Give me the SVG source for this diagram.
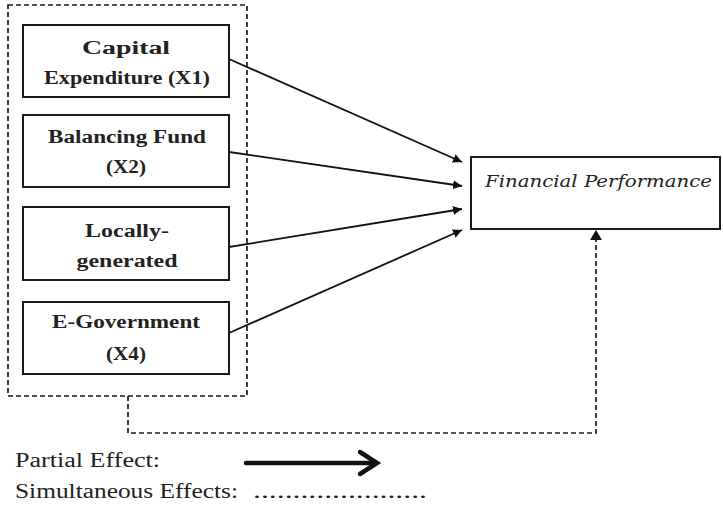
<svg xmlns="http://www.w3.org/2000/svg" width="723" height="517" viewBox="0 0 723 517">
<style>
.box{fill:#fff;stroke:#1a1a1a;stroke-width:2}
.dash{fill:none;stroke:#1a1a1a;stroke-width:1.7;stroke-dasharray:5,3}
.lbl{font-family:"Liberation Serif","Times New Roman",serif;font-weight:bold;font-size:18.5px;fill:#222;text-anchor:middle}
.fp{font-family:"DejaVu Serif","Liberation Serif",serif;font-style:italic;font-size:16px;fill:#222}
.leg{font-family:"Liberation Serif","Times New Roman",serif;font-size:20px;fill:#222}
.conn{stroke:#111;stroke-width:1.8;fill:none}
</style>
<defs>
<marker id="ah" viewBox="0 0 10 10" refX="10" refY="5" markerWidth="9" markerHeight="9" markerUnits="userSpaceOnUse" orient="auto">
<path d="M0,0 L10,5 L0,10 z" fill="#111"/>
</marker>
</defs>
<rect x="0" y="0" width="723" height="517" fill="#fff"/>
<rect id="group-x" class="dash" x="8" y="5" width="239" height="391"/>
<g id="n-capital">
<rect class="box" x="23" y="25" width="206" height="72"/>
<text class="lbl" x="126" y="54" textLength="88" lengthAdjust="spacingAndGlyphs">Capital</text>
<text class="lbl" x="127" y="84" textLength="166" lengthAdjust="spacingAndGlyphs">Expenditure (X1)</text>
</g>
<g id="n-balancing">
<rect class="box" x="23" y="115" width="206" height="72"/>
<text class="lbl" x="127" y="143" textLength="158" lengthAdjust="spacingAndGlyphs">Balancing Fund</text>
<text class="lbl" x="126" y="173" textLength="40" lengthAdjust="spacingAndGlyphs">(X2)</text>
</g>
<g id="n-locally">
<rect class="box" x="23" y="207" width="206" height="73"/>
<text class="lbl" x="127" y="237" textLength="84" lengthAdjust="spacingAndGlyphs">Locally-</text>
<text class="lbl" x="127" y="267" textLength="101" lengthAdjust="spacingAndGlyphs">generated</text>
</g>
<g id="n-egov">
<rect class="box" x="23" y="302" width="206" height="72"/>
<text class="lbl" x="126" y="328" textLength="148" lengthAdjust="spacingAndGlyphs">E-Government</text>
<text class="lbl" x="126" y="360" textLength="40" lengthAdjust="spacingAndGlyphs">(X4)</text>
</g>
<g id="n-fp">
<rect class="box" x="471" y="157" width="249" height="72"/>
<text class="fp" x="485" y="187" textLength="227" lengthAdjust="spacingAndGlyphs">Financial Performance</text>
</g>
<g id="connectors">
<line class="conn" x1="229" y1="59" x2="462" y2="162" marker-end="url(#ah)"/>
<line class="conn" x1="229" y1="152" x2="462" y2="186" marker-end="url(#ah)"/>
<line class="conn" x1="229" y1="247" x2="462" y2="209" marker-end="url(#ah)"/>
<line class="conn" x1="229" y1="333" x2="462" y2="230" marker-end="url(#ah)"/>
<path class="dash" d="M128,396 V433 H596 V240"/>
<path d="M590,240 L596,230 L602,240 z" fill="#111"/>
</g>
<g id="legend">
<text class="leg" x="15" y="467" textLength="145" lengthAdjust="spacingAndGlyphs">Partial Effect:</text>
<line x1="246" y1="463" x2="374" y2="463" stroke="#111" stroke-width="4.5" stroke-linecap="round"/>
<path d="M360,452 L377,463 L360,474" fill="none" stroke="#111" stroke-width="4.5" stroke-linecap="round" stroke-linejoin="miter"/>
<text class="leg" x="15" y="498" textLength="223" lengthAdjust="spacingAndGlyphs">Simultaneous Effects:</text>
<text class="leg" x="253" y="498" textLength="174" lengthAdjust="spacingAndGlyphs">......................</text>
</g>
</svg>
